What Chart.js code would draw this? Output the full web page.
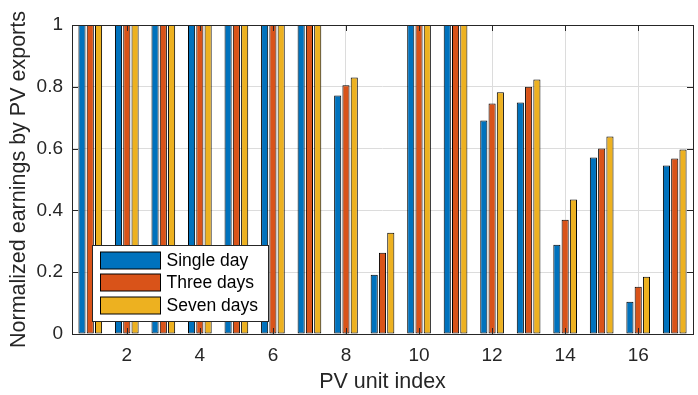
<!DOCTYPE html>
<html>
<head>
<meta charset="utf-8">
<script src="https://cdn.jsdelivr.net/npm/chart.js@4/dist/chart.umd.min.js"></script>
<style>
  html, body { margin: 0; padding: 0; background: #fff; }
  #wrap { width: 698px; height: 395px; }
</style>
</head>
<body>
<div id="wrap"><canvas id="c" width="698" height="395"></canvas></div>
<script>
// PV unit index 1..17
var units = ['1','2','3','4','5','6','7','8','9','10','11','12','13','14','15','16','17'];
var singleDay = [1, 1, 1, 1, 1, 1, 1, 0.772, 0.192, 1, 1, 0.691, 0.749, 0.289, 0.571, 0.104, 0.545];
var threeDays = [1, 1, 1, 1, 1, 1, 1, 0.805, 0.263, 1, 1, 0.746, 0.800, 0.370, 0.600, 0.153, 0.568];
var sevenDays = [1, 1, 1, 1, 1, 1, 1, 0.830, 0.328, 1, 1, 0.782, 0.824, 0.435, 0.639, 0.185, 0.597];
var yTicks = [0, 0.2, 0.4, 0.6, 0.8, 1];

var ink = '#262626';
var fontFam = '"Liberation Sans", Arial, Helvetica, sans-serif';

// box, inward tick marks (matlab style) and the legend inside the axes
var boxTicks = {
	id: 'boxTicks',
	afterDatasetsDraw: function(chart) {
		var ctx = chart.ctx, a = chart.chartArea;
		var xs = chart.scales.x, ys = chart.scales.y;
		ctx.save();
		ctx.strokeStyle = ink;
		ctx.lineWidth = 1;
		ctx.beginPath();
		for (var i = 1; i < units.length; i += 2) {
			var px = Math.round(xs.getPixelForValue(i)) + 0.5;
			ctx.moveTo(px, a.bottom); ctx.lineTo(px, a.bottom - 6);
			ctx.moveTo(px, a.top); ctx.lineTo(px, a.top + 6);
		}
		yTicks.forEach(function(t) {
			var py = Math.round(ys.getPixelForValue(t)) + 0.5;
			ctx.moveTo(a.left, py); ctx.lineTo(a.left + 6, py);
			ctx.moveTo(a.right, py); ctx.lineTo(a.right - 6, py);
		});
		ctx.stroke();
		ctx.strokeRect(Math.round(a.left) + 0.5, Math.round(a.top) + 0.5,
			Math.round(a.right - a.left), Math.round(a.bottom - a.top));
		ctx.restore();
	},
	afterDraw: function(chart) {
		var ctx = chart.ctx, a = chart.chartArea;
		var ds = chart.data.datasets;
		var bx = Math.round(a.left) + 20.5, by = Math.round(a.bottom) - 88.5;
		var bw = 176, bh = 76;
		ctx.save();
		ctx.fillStyle = '#fff';
		ctx.fillRect(bx, by, bw, bh);
		ctx.strokeStyle = ink;
		ctx.lineWidth = 1;
		ctx.strokeRect(bx, by, bw, bh);
		ctx.font = '17.5px ' + fontFam;
		ctx.textBaseline = 'middle';
		for (var i = 0; i < ds.length; i++) {
			var sy = Math.round(by + 6 + i * 22.7);
			ctx.fillStyle = ds[i].backgroundColor;
			ctx.fillRect(bx + 8, sy, 60, 17);
			ctx.strokeStyle = '#000';
			ctx.strokeRect(bx + 8, sy, 60, 17);
			ctx.fillStyle = '#000';
			ctx.fillText(ds[i].label, bx + 74, sy + 9);
		}
		ctx.restore();
	}
};

function bars(label, values, color) {
	return {
		label: label,
		data: values,
		backgroundColor: color,
		borderColor: '#000',
		borderWidth: 1,
		borderSkipped: false,
		categoryPercentage: 0.68,
		barPercentage: 0.86
	};
}

new Chart(document.getElementById('c'), {
	type: 'bar',
	data: {
		labels: units,
		datasets: [
			bars('Single day', singleDay, '#0072BD'),
			bars('Three days', threeDays, '#D95319'),
			bars('Seven days', sevenDays, '#EDB120')
		]
	},
	options: {
		responsive: false,
		animation: false,
		devicePixelRatio: 1,
		layout: { padding: { top: 25, right: 5, left: 0, bottom: 0 } },
		plugins: { legend: { display: false }, tooltip: { enabled: false } },
		scales: {
			x: {
				type: 'category',
				offset: true,
				border: { display: false },
				grid: {
					offset: false,
					drawTicks: false,
					color: function(c) { return c.index % 2 === 1 ? '#dcdcdc' : 'rgba(0,0,0,0)'; }
				},
				ticks: {
					autoSkip: false,
					maxRotation: 0,
					padding: 10,
					color: ink,
					font: { family: fontFam, size: 19 },
					callback: function(v, i) { return i % 2 === 1 ? units[i] : ''; }
				},
				title: {
					display: true,
					text: 'PV unit index',
					color: ink,
					font: { family: fontFam, size: 21.5 },
					padding: { top: 0, bottom: 0 }
				},
				afterFit: function(s) { s.height = 61; }
			},
			y: {
				min: 0,
				max: 1,
				border: { display: false },
				grid: { drawTicks: false, color: '#dcdcdc' },
				afterBuildTicks: function(s) { s.ticks = yTicks.map(function(v) { return { value: v }; }); },
				ticks: {
					padding: 9,
					color: ink,
					font: { family: fontFam, size: 19 },
					callback: function(v) { return String(+v.toFixed(1)); }
				},
				title: {
					display: true,
					text: 'Normalized earnings by PV exports',
					color: ink,
					font: { family: fontFam, size: 21.5 },
					padding: { top: 6, bottom: 0 }
				},
				afterFit: function(s) { s.width = 72; }
			}
		}
	},
	plugins: [boxTicks]
});
</script>
</body>
</html>
